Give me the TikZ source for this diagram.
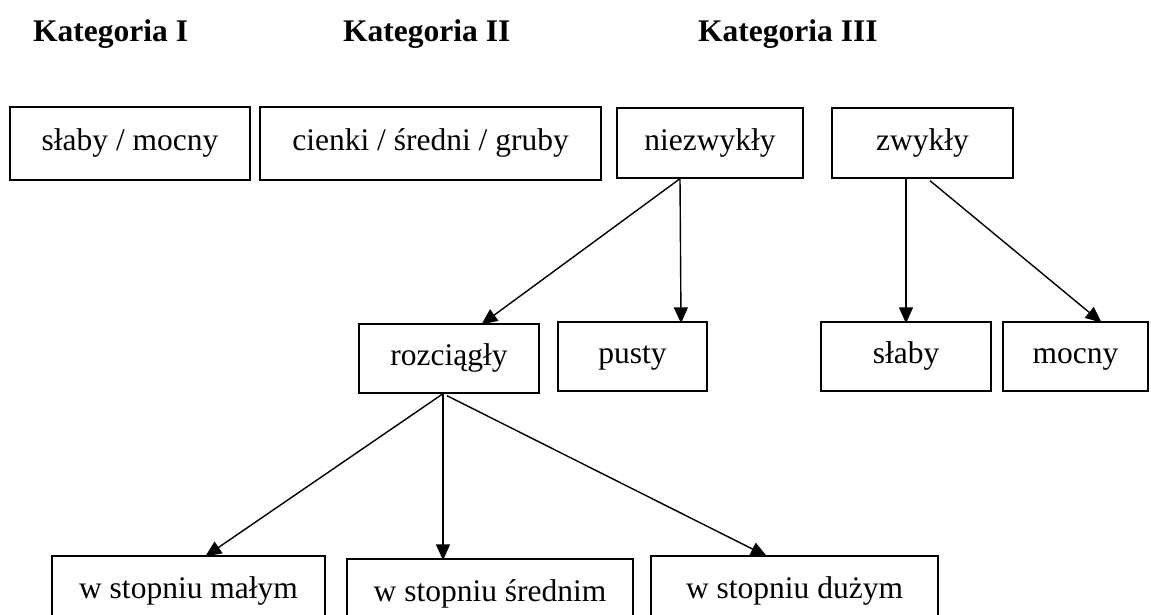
\documentclass[tikz,border=0pt]{standalone}
\usepackage{fontspec}
\setmainfont{Liberation Serif}
\usetikzlibrary{arrows.meta}
\begin{document}
\begin{tikzpicture}[x=1pt,y=-1pt,
  box/.style={draw, line width=1.4pt, inner sep=0pt, text height=21pt, text depth=7pt,
    font=\fontsize{31.5}{36}\selectfont},
  cat/.style={anchor=base west, inner sep=0pt, font=\fontsize{31.5}{36}\selectfont\bfseries},
  conn/.style={line width=1.4pt, -{Triangle[length=16pt,width=14pt]}, shorten >=-2pt}]
\clip (0,0) rectangle (1151,614);
\fill[white] (0,0) rectangle (1151,614);

\node[cat] (k1) at (33,41) {Kategoria I};
\node[cat] (k2) at (343,41) {Kategoria II};
\node[cat] (k3) at (698,41) {Kategoria III};

\node[box, minimum width=240pt, minimum height=73pt] (b1) at (130,143.5) {słaby / mocny};
\node[box, minimum width=341pt, minimum height=73pt] (b2) at (430.5,143.5) {cienki / średni / gruby};
\node[box, minimum width=186pt, minimum height=70pt] (niez) at (710,143) {niezwykły};
\node[box, minimum width=181pt, minimum height=70pt] (zwyk) at (922.5,143) {zwykły};

\node[box, minimum width=180pt, minimum height=69pt] (rozc) at (449,358.5) {rozciągły};
\node[box, minimum width=149pt, minimum height=69pt] (pusty) at (632.5,356.5) {pusty};
\node[box, minimum width=170pt, minimum height=69pt] (slaby) at (906,356.5) {słaby};
\node[box, minimum width=145pt, minimum height=69pt] (mocny) at (1075.5,356.5) {mocny};

\node[box, minimum width=273pt, minimum height=70pt] (maly) at (188.5,591) {w stopniu małym};
\node[box, minimum width=286pt, minimum height=70pt] (sredni) at (490,594) {w stopniu średnim};
\node[box, minimum width=287pt, minimum height=70pt] (duzy) at (794.5,591) {w stopniu dużym};

\draw[conn] ([xshift=-30pt]niez.south) -- ([xshift=34pt]rozc.north);
\draw[conn] ([xshift=-30pt]niez.south) -- ([xshift=48.5pt]pusty.north);
\draw[conn] ([xshift=-16.5pt]zwyk.south) -- (slaby.north);
\draw[conn] ([xshift=7.5pt,yshift=-2pt]zwyk.south) -- ([xshift=24.5pt]mocny.north);
\draw[conn] ([xshift=-6pt]rozc.south) -- ([xshift=18.5pt]maly.north);
\draw[conn] ([xshift=-6pt]rozc.south) -- ([xshift=-47pt]sredni.north);
\draw[conn] ([xshift=-2pt,yshift=-2pt]rozc.south) -- ([xshift=-29.5pt]duzy.north);
\end{tikzpicture}
\end{document}
